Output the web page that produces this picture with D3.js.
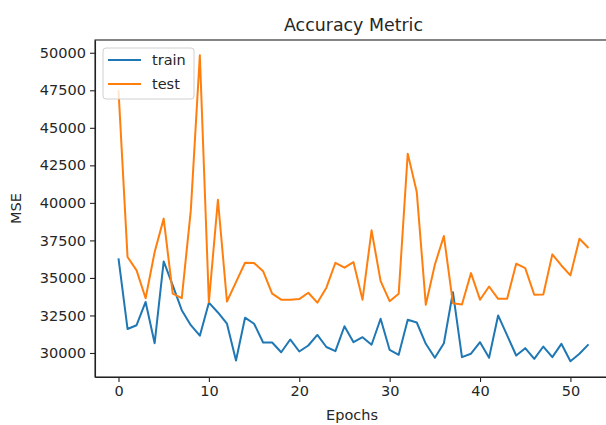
<html>
<head>
  <meta charset="utf8">
  <title>Accuracy Metric</title>
  <style>
  * { margin: 0; padding: 0; }
  body { background: #fff; }
  text { font-family: "DejaVu Sans", sans-serif; fill: #262626; }
  .line { fill: none; stroke-width: 2px; stroke-linejoin: round; }
  .axis path, .axis line { stroke: #222; stroke-width: 1.1px; }
  .axis text { font-size: 14.5px; fill: #262626; font-family: "DejaVu Sans", sans-serif; }
  </style>
</head>
<body>
  <script src="https://cdn.jsdelivr.net/npm/d3@7"></script>
  <script>

  // epochs 0..52
  var epochs = d3.range(0, 53)

  var trainMSE = [
    36300, 31600, 31850, 33400, 30650, 36100, 34500, 32850, 31850, 31150,
    33350, 32700, 31950, 29500, 32350, 31950, 30700, 30700, 30050, 30900,
    30100, 30500, 31200, 30400, 30120, 31780, 30720, 31050, 30550, 32280,
    30200, 29880, 32210, 32030, 30610, 29680, 30650, 34050, 29720, 29950,
    30720, 29680, 32500, 31170, 29830, 30320, 29610, 30430, 29720, 30610,
    29450, 29950, 30570
  ]

  var testMSE = [
    47500, 36390, 35500, 33650, 36720, 38950, 33950, 33650, 39500, 49830,
    33390, 40210, 33430, 34720, 36010, 35990, 35450, 33950, 33550, 33550,
    33590, 34010, 33350, 34350, 36010, 35680, 36050, 33550, 38170, 34790,
    33450, 33950, 43280, 40720, 33210, 35880, 37790, 33320, 33230, 35320,
    33550, 34430, 33610, 33610, 35950, 35650, 33880, 33900, 36570, 35830,
    35170, 37610, 36990
  ]

  var seriesNames = ['train', 'test']
  var colors = ['#1f77b4', '#ff7f0e']
  var xTicks = [0, 10, 20, 30, 40, 50]
  var yTicks = [30000, 32500, 35000, 37500, 40000, 42500, 45000, 47500, 50000]

  var W = 606, H = 425
  var plot = {left: 95, right: 612, top: 40, bottom: 377}

  var svg = d3.select('body')
    .append('svg')
    .attr('width', W)
    .attr('height', H)
    .attr('viewBox', `0 0 ${W} ${H}`)

  var x = d3.scaleLinear().domain([-2.6, 54.6]).range([plot.left, plot.right])
  var y = d3.scaleLinear().domain([28400, 50850]).range([plot.bottom, plot.top])

  // lines first, then spines on top
  var line = d3.line()
    .x((d, i) => x(epochs[i]))
    .y(d => y(d))

  var g = svg.append('g')
  ;[trainMSE, testMSE].forEach((s, k) => {
    g.append('path')
      .datum(s)
      .attr('class', 'line')
      .attr('stroke', colors[k])
      .attr('d', line)
  })

  // axes
  svg.append('g')
    .attr('class', 'axis')
    .attr('transform', `translate(0,${plot.bottom})`)
    .call(d3.axisBottom(x).tickValues(xTicks).tickSize(5).tickPadding(4).tickSizeOuter(0))

  svg.append('g')
    .attr('class', 'axis')
    .attr('transform', `translate(${plot.left},0)`)
    .call(d3.axisLeft(y).tickValues(yTicks).tickFormat(d3.format('d')).tickSize(5).tickPadding(4).tickSizeOuter(0))

  // top and right spines
  svg.append('rect')
    .attr('x', plot.left)
    .attr('y', plot.top)
    .attr('width', plot.right - plot.left)
    .attr('height', plot.bottom - plot.top)
    .attr('fill', 'none')
    .attr('stroke', '#222')
    .attr('stroke-width', 1.1)

  // title + labels
  svg.append('text')
    .attr('x', (plot.left + plot.right) / 2)
    .attr('y', 31)
    .attr('text-anchor', 'middle')
    .style('font-size', '17.4px')
    .text('Accuracy Metric')

  svg.append('text')
    .attr('x', 352)
    .attr('y', 420)
    .attr('text-anchor', 'middle')
    .style('font-size', '14.5px')
    .text('Epochs')

  svg.append('text')
    .attr('transform', `translate(21,${(plot.top + plot.bottom) / 2}) rotate(-90)`)
    .attr('text-anchor', 'middle')
    .style('font-size', '14.5px')
    .text('MSE')

  // legend
  var lg = svg.append('g').attr('transform', 'translate(103,48)')
  lg.append('rect')
    .attr('width', 91)
    .attr('height', 51)
    .attr('rx', 3)
    .attr('fill', 'rgba(255,255,255,0.8)')
    .attr('stroke', '#d0d0d0')
    .attr('stroke-width', 1)

  seriesNames.forEach((name, k) => {
    var row = lg.append('g').attr('transform', `translate(0,${12 + k * 24})`)
    row.append('line')
      .attr('x1', 5).attr('x2', 38)
      .attr('stroke', colors[k])
      .attr('stroke-width', 2)
    row.append('text')
      .attr('x', 49)
      .attr('dy', '0.35em')
      .style('font-size', '14.5px')
      .text(name)
  })
  </script>
</body>
</html>
